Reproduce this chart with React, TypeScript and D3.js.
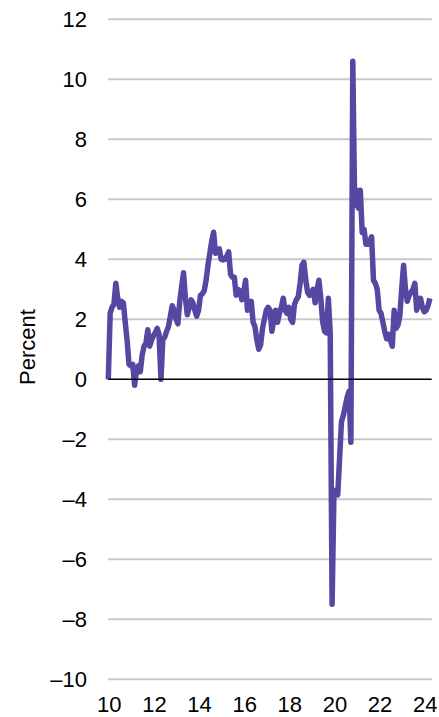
import React from "react";
import * as d3 from "d3";

const startYear = 2010;
const values: number[] = [
  0.0, 2.2, 2.4, 2.5, 3.2, 2.7, 2.4, 2.6, 2.55, 1.9, 1.3, 0.5,
  0.45, 0.5, -0.2, 0.3, 0.45, 0.25, 0.8, 1.1, 1.2, 1.65, 1.1, 1.3,
  1.45, 1.55, 1.7, 1.5, 0.0, 1.35, 1.4, 1.6, 1.75, 2.1, 2.45, 2.3,
  2.0, 1.85, 2.6, 3.1, 3.55, 2.7, 2.15, 2.4, 2.65, 2.55, 2.3, 2.1,
  2.3, 2.8, 2.85, 2.95, 3.3, 3.8, 4.2, 4.6, 4.9, 4.2, 4.3, 4.35,
  4.0, 3.98, 4.0, 4.1, 4.25, 3.5, 3.4, 3.4, 2.8, 3.0, 2.95, 2.65,
  2.9, 3.3, 2.3, 2.5, 2.6, 1.9, 1.75, 1.3, 1.0, 1.15, 1.7, 2.0,
  2.3, 2.4, 2.3, 1.6, 2.0, 2.3, 1.9, 2.2, 2.4, 2.7, 2.3, 2.2,
  2.4, 2.0, 1.9, 2.5, 2.65, 2.75, 3.2, 3.8, 3.9, 3.3, 2.9, 2.8,
  2.9, 3.0, 2.55, 3.0, 3.3, 2.7, 1.9, 1.6, 1.55, 2.7, 1.55, -7.5,
  -3.7, -3.8, -3.85, -2.6, -1.4, -1.2, -0.9, -0.6, -0.4, -2.1, 10.6, 5.8,
  6.3, 5.7, 6.3, 4.9, 5.0, 4.5, 4.5, 4.6, 4.75, 3.3, 3.2, 3.0,
  2.3, 2.2, 1.9, 1.6, 1.35, 1.5, 1.3, 1.1, 2.3, 1.7, 1.8, 2.1,
  3.0, 3.8, 3.0, 2.6, 2.8, 2.9, 3.0, 3.2, 2.3, 2.6, 2.7, 2.4,
  2.25, 2.3, 2.45, 2.7,
];
const yTicks: number[] = [-10, -8, -6, -4, -2, 0, 2, 4, 6, 8, 10, 12];
const xTicks: number[] = [2010, 2012, 2014, 2016, 2018, 2020, 2022, 2024];
const xTickLabels: string[] = ["10", "12", "14", "16", "18", "20", "22", "24"];
const yLabel = "Percent";

const W = 439;
const H = 717;
const FONT = "'Liberation Sans', Arial, Helvetica, sans-serif";

export default function App() {
  const x = d3.scaleLinear().domain([2010, 2024.33]).range([108.3, 431.7]);
  const y = d3.scaleLinear().domain([-10, 12]).range([679.3, 19.3]);
  const data = values.map((v, i) => ({ t: startYear + i / 12, v }));
  const line = d3
    .line<{ t: number; v: number }>()
    .x((d) => x(d.t))
    .y((d) => y(d.v));
  const fmt = (v: number) => (v < 0 ? "\u2013" + Math.abs(v) : String(v));
  return (
    <svg
      width={W}
      height={H}
      style={{ position: "absolute", left: 0, top: 0, background: "#fff" }}
      fontFamily={FONT}
    >
      {yTicks
        .filter((t) => t !== 0)
        .map((t) => (
          <line
            key={"g" + t}
            x1={x.range()[0]}
            x2={x.range()[1]}
            y1={y(t)}
            y2={y(t)}
            stroke="#c8c8c8"
            strokeWidth={2}
          />
        ))}
      {yTicks.map((t) => (
        <text
          key={"yl" + t}
          x={87}
          y={y(t)}
          dy="0.35em"
          textAnchor="end"
          fontSize={22}
          fill="#000"
        >
          {fmt(t)}
        </text>
      ))}
      {xTicks.map((t, i) => (
        <text
          key={"xl" + t}
          x={x(t) + 1}
          y={712}
          textAnchor="middle"
          fontSize={22}
          fill="#000"
        >
          {xTickLabels[i]}
        </text>
      ))}
      <text
        transform={`translate(35,347) rotate(-90)`}
        textAnchor="middle"
        fontSize={22}
        fill="#000"
      >
        {yLabel}
      </text>
      <path
        d={line(data) || ""}
        fill="none"
        stroke="#5548a3"
        strokeWidth={5.5}
        strokeLinejoin="round"
      />
      <line
        x1={x.range()[0]}
        x2={x.range()[1]}
        y1={y(0)}
        y2={y(0)}
        stroke="#000"
        strokeWidth={1.5}
      />
    </svg>
  );
}
